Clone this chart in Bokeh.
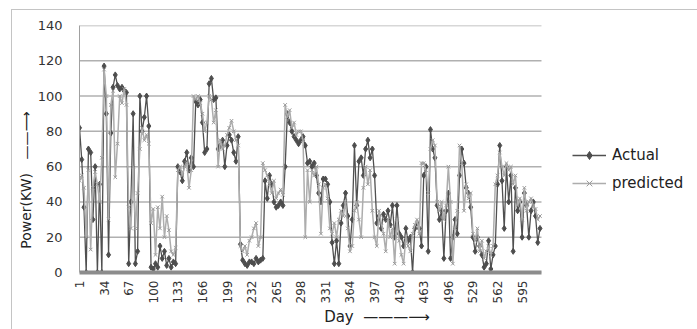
import math
from bokeh.plotting import figure
from bokeh.models import Range1d, FixedTicker, Legend, LegendItem
from bokeh.embed import file_html
from bokeh.resources import INLINE

# ---- data (sampled every 3 days) ----
days = list(range(1, 620, 3))
first_day, last_day = 1, 621
tick_days = [1, 34, 67, 100, 133, 166, 199, 232, 265, 298, 331, 364, 397, 430,
             463, 496, 529, 562, 595]
y_ticks = [0, 20, 40, 60, 80, 100, 120, 140]

actual = [
    82, 64, 37, 0, 70, 68, 30, 60, 0, 50, 0,
    117, 90, 10, 79, 105, 112, 106, 104, 105, 103, 102,
    5, 40, 90, 5, 12, 100, 80, 88, 100, 83, 3,
    2, 5, 3, 15, 8, 12, 4, 8, 3, 6, 5,
    60, 57, 52, 63, 68, 58, 65, 60, 97, 95, 98,
    85, 68, 70, 107, 110, 98, 99, 70, 72, 75, 60,
    72, 78, 75, 68, 63, 77, 16, 7, 5, 4, 6,
    6, 5, 8, 6, 7, 8, 52, 42, 55, 50, 40,
    37, 38, 40, 38, 60, 90, 85, 80, 77, 75, 73,
    75, 77, 72, 62, 63, 60, 62, 55, 45, 40, 53,
    53, 50, 40, 17, 5, 18, 5, 28, 38, 45, 32,
    15, 30, 72, 38, 63, 65, 55, 70, 75, 65, 70,
    55, 28, 32, 25, 33, 30, 35, 27, 38, 20, 38,
    22, 20, 15, 25, 18, 20, 0, 25, 28, 25, 15,
    55, 60, 12, 81, 70, 65, 38, 30, 35, 8, 35,
    45, 8, 20, 30, 22, 55, 70, 62, 48, 45, 37,
    20, 12, 20, 15, 10, 3, 5, 18, 2, 10, 15,
    50, 72, 52, 25, 60, 40, 55, 12, 48, 35, 40,
    20, 45, 38, 20, 35, 40, 32, 17, 25,
]

predicted = [
    52, 55, 48, 20, 58, 13, 48, 57, 50, 40, 65,
    115, 100, 30, 95, 103, 54, 73, 100, 96, 104, 95,
    37, 25, 60, 25, 45, 70, 82, 75, 78, 73, 28,
    36, 10, 37, 25, 43, 20, 32, 24, 12, 10, 14,
    58, 60, 55, 60, 62, 48, 58, 100, 98, 100, 96,
    90, 80, 85, 100, 98, 85, 92, 60, 75, 70, 72,
    78, 82, 86, 80, 75, 72, 15, 12, 15, 10, 18,
    20, 25, 28, 15, 20, 62, 58, 55, 50, 45, 52,
    42, 45, 47, 44, 95, 88, 92, 82, 85, 78, 80,
    80, 75, 20, 58, 40, 58, 55, 60, 50, 22, 48,
    50, 42, 25, 22, 28, 20, 30, 35, 32, 40, 25,
    12, 15, 35, 40, 30, 20, 48, 60, 50, 58, 35,
    20, 15, 35, 28, 22, 12, 30, 20, 25, 5, 30,
    18, 10, 5, 20, 15, 12, 22, 27, 30, 22, 62,
    62, 58, 45, 70, 75, 72, 40, 35, 40, 30, 38,
    60, 40, 5, 25, 35, 72, 62, 35, 50, 42, 45,
    22, 18, 25, 12, 18, 8, 12, 15, 10, 15, 50,
    55, 68, 60, 55, 62, 58, 60, 50, 55, 38, 42,
    30, 48, 35, 40, 42, 38, 36, 30, 32,
]

FONT = "DejaVu Sans"
NB = "\u00a0"
y_title = "Power(KW)" + NB * 3 + "\u2014\u2014\u27f6" + NB * 14
x_title = "Day" + NB * 2 + "\u2014\u2014\u2014\u27f6" + NB * 4

# the frame runs to the right edge so the legend is not clipped;
# the visible chart area spans first_day..last_day
p = figure(width=697, height=329, output_backend="svg", toolbar_location=None,
           x_range=Range1d(first_day, 825), y_range=Range1d(0, 140),
           min_border_left=79, min_border_right=4, min_border_top=25,
           min_border_bottom=50)
p.outline_line_color = None
p.background_fill_color = "white"
p.border_fill_alpha = 0
p.styles = {
    "background": ("linear-gradient(#c4c4c4,#c4c4c4) 11px 9px / 1px 330px no-repeat, "
                   "linear-gradient(#c4c4c4,#c4c4c4) 11px 9px / 690px 1px no-repeat, "
                   "white"),
}

# horizontal grid lines limited to the chart area
p.xgrid.visible = False
p.ygrid.visible = False
p.segment(x0=[first_day] * len(y_ticks), y0=y_ticks,
          x1=[last_day] * len(y_ticks), y1=y_ticks,
          line_color="#b0b0b0", line_width=1.5)

# y axis
p.yaxis.ticker = FixedTicker(ticks=y_ticks)
p.yaxis.major_label_text_font = FONT
p.yaxis.major_label_text_font_size = "13px"
p.yaxis.major_label_text_color = "#333333"
p.yaxis.major_tick_line_color = None
p.yaxis.minor_tick_line_color = None
p.yaxis.major_tick_out = 0
p.yaxis.major_label_standoff = 17
p.yaxis.axis_line_color = "#a0a0a0"
p.yaxis.axis_label = y_title
p.yaxis.axis_label_text_font = FONT
p.yaxis.axis_label_text_font_size = "14px"
p.yaxis.axis_label_text_font_style = "normal"
p.yaxis.axis_label_text_color = "#222222"
p.yaxis.axis_label_standoff = 1

# x axis
p.xaxis.bounds = (first_day, last_day)
p.xaxis.ticker = FixedTicker(ticks=tick_days)
p.xaxis.major_label_orientation = math.pi / 2
p.xaxis.major_label_text_font = FONT
p.xaxis.major_label_text_font_size = "12px"
p.xaxis.major_label_text_color = "#333333"
p.xaxis.major_tick_line_color = None
p.xaxis.minor_tick_line_color = None
p.xaxis.major_tick_out = 0
p.xaxis.major_label_standoff = 8
p.xaxis.axis_line_color = "#8c8c8c"
p.xaxis.axis_line_width = 4
p.xaxis.axis_label = x_title
p.xaxis.axis_label_text_font = FONT
p.xaxis.axis_label_text_font_size = "15px"
p.xaxis.axis_label_text_font_style = "normal"
p.xaxis.axis_label_text_color = "#222222"
p.xaxis.axis_label_standoff = 2

# series
r1 = p.line(days, actual, line_color="#505050", line_width=1.3)
m1 = p.scatter(days, actual, marker="diamond", size=6,
               fill_color="#4d4d4d", line_color="#4d4d4d")
r2 = p.line(days, predicted, line_color="#adadad", line_width=1.5)
m2 = p.scatter(days, predicted, marker="x", size=5, line_color="#9a9a9a")

legend = Legend(items=[LegendItem(label="Actual", renderers=[r1, m1]),
                       LegendItem(label="predicted", renderers=[r2, m2])],
                location=(493, 79), padding=0, margin=0, spacing=8,
                glyph_width=34, glyph_height=20, label_standoff=6,
                border_line_color=None, background_fill_alpha=0,
                label_text_font=FONT, label_text_font_size="15px",
                label_text_color="#222222")
p.add_layout(legend)

open("out.html", "w").write(file_html(p, INLINE))
